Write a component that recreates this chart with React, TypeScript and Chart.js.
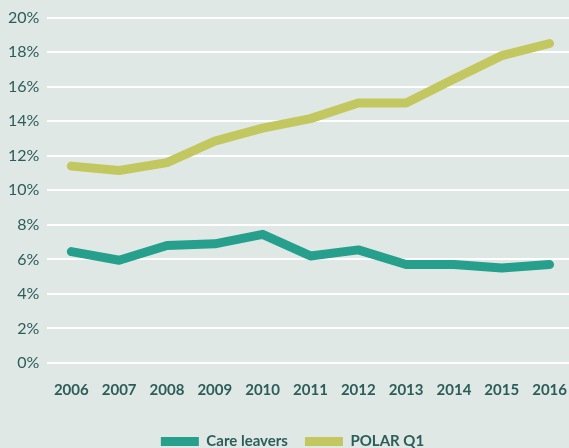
import React, { useEffect, useRef } from "react";
import { Chart, registerables } from "chart.js";

Chart.register(...registerables);

const years = ["2006", "2007", "2008", "2009", "2010", "2011", "2012", "2013", "2014", "2015", "2016"];
const careLeavers = [6.45, 5.95, 6.8, 6.9, 7.45, 6.2, 6.55, 5.7, 5.7, 5.5, 5.7];
const polarQ1 = [11.4, 11.15, 11.6, 12.85, 13.6, 14.15, 15.05, 15.05, 16.45, 17.8, 18.5];

const textColor = "#2b5d59";
const fontFamily = "Lato, 'Open Sans', sans-serif";

export default function App() {
  const ref = useRef<HTMLCanvasElement>(null);
  useEffect(() => {
    document.body.style.margin = "0";
    const chart = new Chart(ref.current!, {
      type: "line",
      data: {
        labels: years,
        datasets: [
          {
            label: "Care leavers",
            data: careLeavers,
            borderColor: "#26a08c",
            backgroundColor: "#26a08c",
            borderWidth: 9,
            borderCapStyle: "round",
            borderJoinStyle: "round",
            pointRadius: 0,
            tension: 0,
          },
          {
            label: "POLAR Q1",
            data: polarQ1,
            borderColor: "#c3c760",
            backgroundColor: "#c3c760",
            borderWidth: 9,
            borderCapStyle: "round",
            borderJoinStyle: "round",
            pointRadius: 0,
            tension: 0,
          },
        ],
      },
      options: {
        responsive: false,
        animation: false,
        layout: { padding: { left: 0, right: 0, top: 14, bottom: 0 } },
        plugins: {
          tooltip: { enabled: false },
          legend: {
            position: "bottom",
            labels: {
              usePointStyle: true,
              pointStyle: "line",
              pointStyleWidth: 38,
              boxHeight: 8,
              boxWidth: 38,
              color: textColor,
              font: { family: fontFamily, size: 15, weight: "bold" },
              padding: 17,
            },
          },
        },
        scales: {
          x: {
            offset: true,
            grid: { display: false, drawTicks: false },
            border: { display: false },
            ticks: {
              color: textColor,
              font: { family: fontFamily, size: 15, weight: "bold" },
              padding: 18,
              maxRotation: 0,
            },
          },
          y: {
            min: 0,
            max: 20,
            grid: { color: "#ffffff", lineWidth: 2, drawTicks: false },
            border: { display: false },
            ticks: {
              stepSize: 2,
              color: textColor,
              font: { family: fontFamily, size: 16 },
              padding: 8,
              callback: (v: any) => v + "%",
            },
          },
        },
      },
    });
    return () => chart.destroy();
  }, []);
  return (
    <div style={{ width: 569, height: 448, background: "#e0e8e6", overflow: "hidden" }}>
      <canvas ref={ref} width={585} height={459} />
    </div>
  );
}
